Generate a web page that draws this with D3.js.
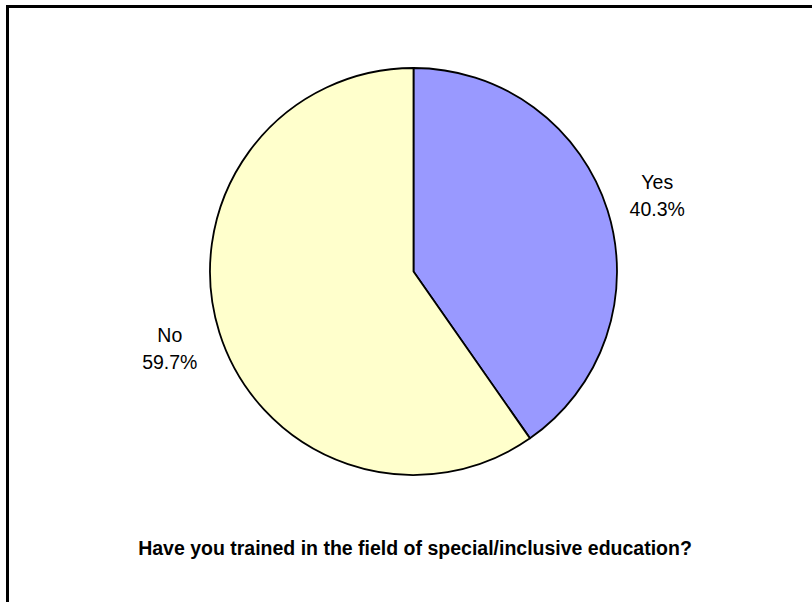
<!DOCTYPE html>
<html><head><meta charset="utf-8">
<script src="https://cdn.jsdelivr.net/npm/d3@7"></script>
<style>html,body{margin:0;padding:0;background:#fff;}svg{display:block;}</style>
</head><body>
<svg id="c" width="812" height="602"></svg>
<script>
const categories = ["Yes", "No"];
const values = [40.3, 59.7];
const colors = ["#9999FF", "#FFFFCC"];
const title = "Have you trained in the field of special/inclusive education?";

const svg = d3.select("#c");
const W = 812, H = 602;
svg.append("rect").attr("width", W).attr("height", H).attr("fill", "#fff");
// chart frame (extends beyond right and bottom edges)
svg.append("rect").attr("x", 7.5).attr("y", 6.5).attr("width", 830).attr("height", 620)
  .attr("fill", "none").attr("stroke", "#000").attr("stroke-width", 3);

const cx = 413.5, cy = 271.5, r = 203.5;
const data = categories.map((c, i) => ({cat: c, v: values[i], color: colors[i]}));
const pie = d3.pie().sort(null).value(d => d.v);
const arc = d3.arc().innerRadius(0).outerRadius(r);
const arcs = pie(data);
const g = svg.append("g").attr("transform", `translate(${cx},${cy})`);
g.selectAll("path").data(arcs).join("path")
  .attr("d", arc).attr("fill", d => d.data.color)
  .attr("stroke", "#000").attr("stroke-width", 1.8).attr("stroke-linejoin", "round");

const total = d3.sum(values);
const labelArc = d3.arc().innerRadius(r + 52).outerRadius(r + 52);
const lbl = g.selectAll("text.lbl").data(arcs).join("text").attr("class", "lbl")
  .attr("transform", d => { const p = labelArc.centroid(d); return `translate(${p[0]},${p[1]})`; })
  .attr("text-anchor", "middle")
  .style("font-family", "Arial, 'Liberation Sans', sans-serif").style("font-size", "19.5px").attr("fill", "#000");
lbl.append("tspan").attr("x", 0).attr("y", -6).text(d => d.data.cat);
lbl.append("tspan").attr("x", 0).attr("y", 21).text(d => (d.data.v / total * 100).toFixed(1) + "%");

svg.append("text").attr("x", 415).attr("y", 555).attr("text-anchor", "middle")
  .style("font-family", "Arial, 'Liberation Sans', sans-serif").style("font-size", "19.5px").style("font-weight", "bold")
  .text(title);
</script>
</body></html>
